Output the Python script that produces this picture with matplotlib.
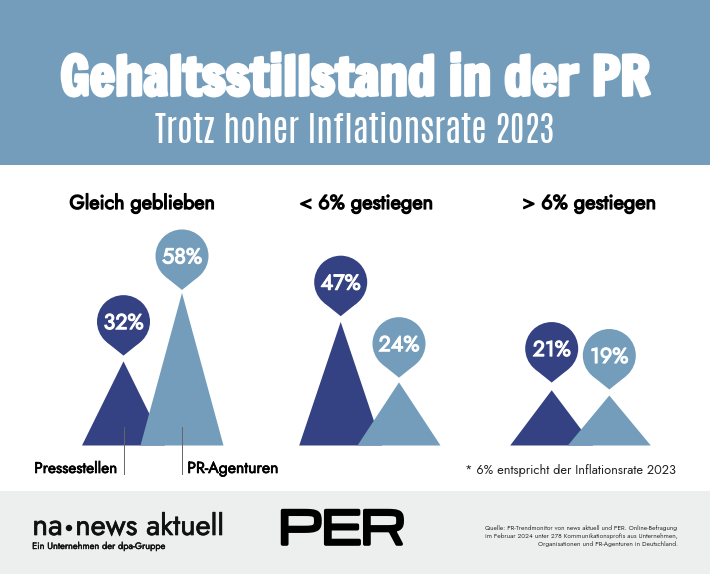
import matplotlib
matplotlib.use("Agg")
import matplotlib.pyplot as plt
import matplotlib.patheffects as pe
from matplotlib.patches import Polygon, Circle, Rectangle

# values
groups = ["Gleich geblieben", "< 6% gestiegen", "> 6% gestiegen"]
pressestellen = [32, 47, 21]
agenturen = [58, 24, 19]

NAVY = "#344283"
BLUE = "#739dbb"
GREY = "#edeeee"

# layout in pixels
x_press = [123.5, 340.7, 551.7]
x_agent = [182, 399, 609.3]
gap_press = [39.7, 39.7, 41.7]
gap_agent = [37, 38.7, 40]
head_span = [(69, 216), (299, 434), (522, 657)]
BASE = 445.5
SCALE = 2.63
HALF = 41.5
R = 26.5

JOST = ["Jost", "Lato", "DejaVu Sans"]

fig = plt.figure(figsize=(7.10, 5.74), dpi=100)
ax = fig.add_axes([0, 0, 1, 1])
ax.set_xlim(0, 710)
ax.set_ylim(574, 0)
ax.axis("off")

ax.add_patch(Rectangle((0, 0), 710, 165, color=BLUE, lw=0))
ax.add_patch(Rectangle((0, 491), 710, 83, color=GREY, lw=0))


def fit(txt, x0, x1, base, family=JOST, col="black", bold=0):
    # font size is scaled until the text spans x0..x1, baseline at base
    t = ax.text(x0, base, txt, fontsize=20, family=family, color=col, ha="left", va="baseline", zorder=6)
    fig.canvas.draw()
    w = t.get_window_extent().width
    t.set_fontsize(20 * (x1 - x0 - bold) / w)
    t.set_x(x0 + bold / 2)
    if bold:
        t.set_path_effects([pe.withStroke(linewidth=bold, foreground=col)])
    return t


def pin(x, apex, gap, col, val):
    cy = apex - gap
    tip = cy + 34
    ty = R * R / 34
    tx = (R * R - ty * ty) ** 0.5
    ax.add_patch(Circle((x, cy), R, color=col, lw=0, zorder=3))
    ax.add_patch(Polygon([(x - tx, cy + ty), (x, tip), (x + tx, cy + ty)], color=col, lw=0, zorder=3))
    ax.text(x, cy + 7.5, f"{val}%", color="white", fontsize=15.5, family=JOST, ha="center", va="baseline", zorder=4,
            path_effects=[pe.withStroke(linewidth=0.8, foreground="white")])


fit("Gehaltsstillstand in der PR", 59, 652, 95, family=["Francois One", "Fjalla One", "Liberation Sans"], col="white", bold=2.6)
fit("Trotz hoher Inflationsrate 2023", 155, 555, 142.7, family=["Antonio", "Liberation Sans"], col="white")

for i in range(3):
    fit(groups[i], head_span[i][0], head_span[i][1], 209, bold=0.9)
    ap = BASE - pressestellen[i] * SCALE
    ag = BASE - agenturen[i] * SCALE
    ax.add_patch(Polygon([(x_press[i] - HALF, BASE), (x_press[i], ap), (x_press[i] + HALF, BASE)], color=NAVY, lw=0, zorder=1))
    ax.add_patch(Polygon([(x_agent[i] - HALF, BASE), (x_agent[i], ag), (x_agent[i] + HALF, BASE)], color=BLUE, lw=0, zorder=2))
    pin(x_press[i], ap, gap_press[i], NAVY, pressestellen[i])
    pin(x_agent[i], ag, gap_agent[i], BLUE, agenturen[i])

# legend ticks and labels
ax.plot([123.5, 123.5], [427, 474], color="#666666", lw=0.7, zorder=5)
ax.plot([182, 182], [427, 474], color="#666666", lw=0.7, zorder=5)
fit("Pressestellen", 34, 118, 473, bold=0.5)
fit("PR-Agenturen", 187, 279, 473, bold=0.5)
fit("* 6% entspricht der Inflationsrate 2023", 465, 677, 474, col="#222222")

# footer, the dot of the logo is a plain circle
fit("na", 32, 63, 535, col="#111111", bold=0.5)
ax.add_patch(Circle((69, 528), 3.2, color="#111111", lw=0))
fit("news aktuell", 75, 225, 535, col="#111111", bold=0.5)
fit("Ein Unternehmen der dpa-Gruppe", 32, 166, 549, col="#111111", bold=0.3)
fit("PER", 277, 407, 544, family=["Michroma", "DejaVu Sans"], bold=2.6)
fit("Quelle: PR-Trendmonitor von news aktuell und PER. Online-Befragung", 485, 678, 530, col="#333333")
fit("im Februar 2024 unter 278 Kommunikationsprofis aus Unternehmen,", 485, 678, 538, col="#333333")
fit("Organisationen und PR-Agenturen in Deutschland.", 538, 678, 546, col="#333333")

fig.savefig("out.png", dpi=100)
